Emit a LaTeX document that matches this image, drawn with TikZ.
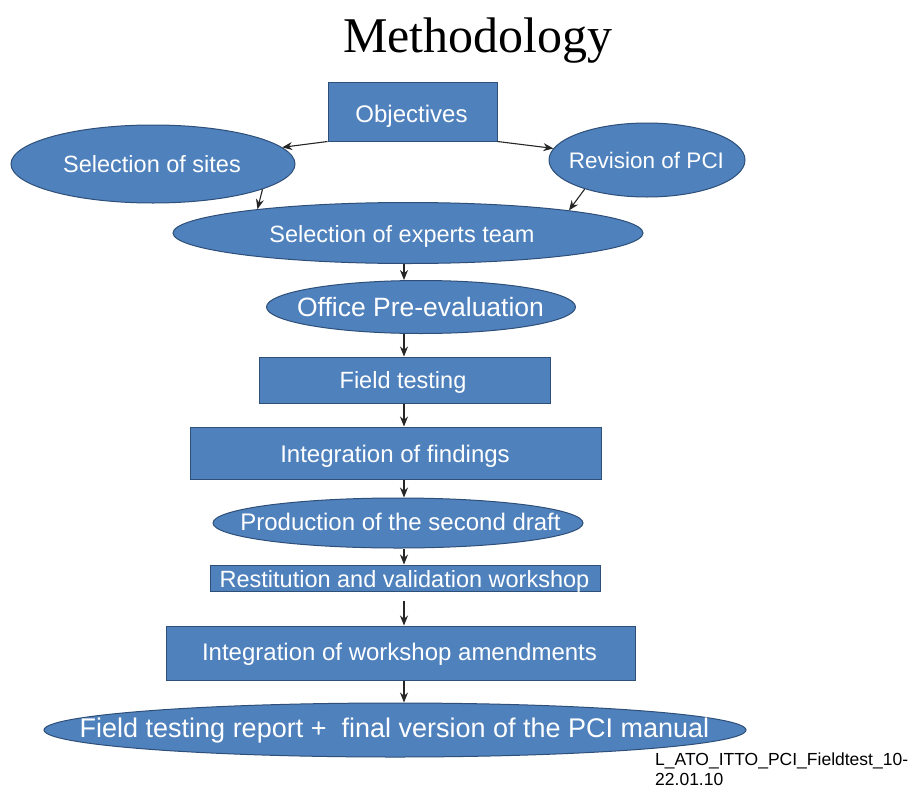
\documentclass[tikz,border=0pt]{standalone}
\usepackage{fontspec}
\setmainfont{Liberation Sans}
\newfontfamily\titlefont{Liberation Serif}
\usetikzlibrary{shapes.geometric,arrows.meta}
\definecolor{boxfill}{HTML}{4F81BD}
\definecolor{boxline}{HTML}{2E4F78}
\newcommand{\fs}[1]{\fontsize{#1}{#1}\selectfont}
\tikzset{
  x=1pt,y=-1pt,
  base/.style={fill=boxfill,draw=boxline,line width=1pt,inner sep=0pt},
  boxnode/.style={base,rectangle},
  ellnode/.style={base,ellipse},
  txt/.style={text=white,inner sep=0pt,anchor=base,font=\fs{#1}},
  arr/.style={-{Stealth[length=10pt,width=8pt]},line width=1.1pt,black!85},
}
\begin{document}
\begin{tikzpicture}
\useasboundingbox (0,0) rectangle (915,787);
\coordinate (axis) at (404,0);
\node[font=\titlefont\fs{50},anchor=base] (title) at (478,52) {Methodology};

\node[boxnode,minimum width=169,minimum height=59] (obj) at (412.5,111.5) {};
\node[txt=24] (objt) at (411.5,122) {Objectives};

\node[ellnode,minimum width=284,minimum height=78] (sites) at (153,164) {};
\node[txt=23.5] (sitest) at (152,172) {Selection of sites};

\node[ellnode,minimum width=196,minimum height=74] (rev) at (647,160) {};
\node[txt=22.5] (revt) at (646.5,168) {Revision of PCI};

\node[ellnode,minimum width=470,minimum height=61] (experts) at (408,233) {};
\node[txt=23.5] (expertst) at (402,242) {Selection of experts team};

\node[ellnode,minimum width=309,minimum height=53] (office) at (421,307) {};
\node[txt=26.5] (officet) at (420.5,316) {Office Pre-evaluation};

\node[boxnode,minimum width=291,minimum height=46] (field) at (404.5,380) {};
\node[txt=23.5] (fieldt) at (403,388) {Field testing};

\node[boxnode,minimum width=411,minimum height=52] (integ) at (395.5,453) {};
\node[txt=24] (integt) at (395,462) {Integration of findings};

\node[ellnode,minimum width=370,minimum height=50] (prod) at (398,523) {};
\node[txt=24] (prodt) at (400.5,530) {Production of the second draft};

\node[boxnode,minimum width=390,minimum height=26] (rest) at (405,578) {};
\node[txt=23.5] (restt) at (404.5,587) {Restitution and validation workshop};

\node[boxnode,minimum width=469,minimum height=54] (amend) at (400.5,653) {};
\node[txt=24] (amendt) at (399.5,660) {Integration of workshop amendments};

\node[ellnode,minimum width=702,minimum height=54] (final) at (395,730) {};
\node[txt=27] (finalt) at (394.5,737) {Field testing report +\ \ final version of the PCI manual};

\node[anchor=base west,inner sep=0pt,font=\fs{17.5}] (foot1) at (655,765) {L\_ATO\_ITTO\_PCI\_Fieldtest\_10-};
\node[anchor=base west,inner sep=0pt,font=\fs{17.5}] (foot2) at (655,785) {22.01.10};

\draw[arr] (obj.south west) -- (sites);
\draw[arr] (obj.south east) -- (rev);
\draw[arr] (sites.-13) -- (experts.171);
\draw[arr] (rev.205) -- (experts.8);
\draw[arr] (experts.south -| axis) -- (office.north -| axis);
\draw[arr] (office.south -| axis) -- (field.north -| axis);
\draw[arr] (field.south -| axis) -- (integ.north -| axis);
\draw[arr] (integ.south -| axis) -- (prod.north -| axis);
\draw[arr] (prod.south -| axis) -- (rest.north -| axis);
\draw[arr,shorten <=9pt] (rest.south -| axis) -- (amend.north -| axis);
\draw[arr] (amend.south -| axis) -- (final.north -| axis);
\end{tikzpicture}
\end{document}
